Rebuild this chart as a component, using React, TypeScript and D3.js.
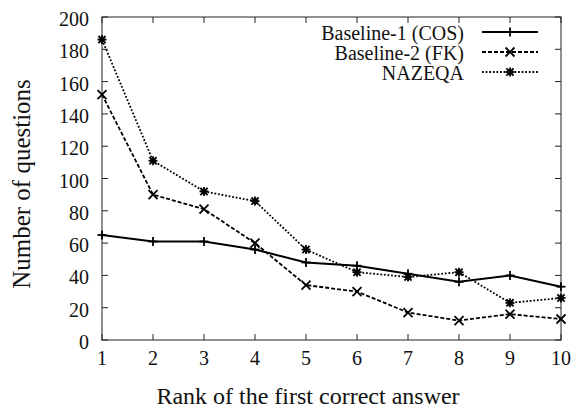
import React, {useEffect, useRef} from 'react';
import * as d3 from 'd3';

const ranks = [1, 2, 3, 4, 5, 6, 7, 8, 9, 10];
const baseline1 = [65, 61, 61, 56, 48, 46, 41, 36, 40, 33];
const baseline2 = [152, 90, 81, 60, 34, 30, 17, 12, 16, 13];
const nazeqa = [186, 111, 92, 86, 56, 42, 39, 42, 23, 26];
const yTicks = [0, 20, 40, 60, 80, 100, 120, 140, 160, 180, 200];
const seriesNames = ['Baseline-1 (COS)', 'Baseline-2 (FK)', 'NAZEQA'];

const FONT = "'Liberation Serif', 'DejaVu Serif', Times, serif";

export default function App() {
    const ref = useRef<SVGSVGElement>(null);

    useEffect(() => {
        const W = 576, H = 409;
        const margin = {top: 17, right: 15, bottom: 69, left: 102};
        const width = W - margin.left - margin.right;
        const height = H - margin.top - margin.bottom;

        const svg = d3.select(ref.current);
        svg.selectAll('*').remove();

        const g = svg.append('g')
            .attr('transform', `translate(${margin.left},${margin.top})`);

        const x = d3.scaleLinear().domain([1, 10]).range([0, width]);
        const y = d3.scaleLinear().domain([0, 200]).range([height, 0]);

        const axisColor = '#222';
        const tickLen = 6;

        // frame
        g.append('rect')
            .attr('width', width).attr('height', height)
            .attr('fill', 'none').attr('stroke', axisColor).attr('stroke-width', 1);

        // ticks on all four sides, pointing inward
        yTicks.forEach(t => {
            g.append('line').attr('x1', 0).attr('x2', tickLen)
                .attr('y1', y(t)).attr('y2', y(t)).attr('stroke', axisColor);
            g.append('line').attr('x1', width).attr('x2', width - tickLen)
                .attr('y1', y(t)).attr('y2', y(t)).attr('stroke', axisColor);
            g.append('text')
                .attr('x', -13).attr('y', y(t) + 2).attr('dy', '0.35em')
                .attr('text-anchor', 'end')
                .style('font-family', FONT).style('font-size', '20px')
                .attr('fill', '#111')
                .text(t);
        });
        ranks.forEach(r => {
            g.append('line').attr('x1', x(r)).attr('x2', x(r))
                .attr('y1', height).attr('y2', height - tickLen).attr('stroke', axisColor);
            g.append('line').attr('x1', x(r)).attr('x2', x(r))
                .attr('y1', 0).attr('y2', tickLen).attr('stroke', axisColor);
            g.append('text')
                .attr('x', x(r)).attr('y', height + 25)
                .attr('text-anchor', 'middle')
                .style('font-family', FONT).style('font-size', '20px')
                .attr('fill', '#111')
                .text(r);
        });

        // axis titles
        svg.append('text')
            .attr('x', 308).attr('y', 404)
            .attr('text-anchor', 'middle')
            .style('font-family', FONT).style('font-size', '24px')
            .attr('fill', '#111')
            .text('Rank of the first correct answer');
        svg.append('text')
            .attr('transform', `translate(30,184) rotate(-90)`)
            .attr('text-anchor', 'middle')
            .style('font-family', FONT).style('font-size', '25px')
            .attr('fill', '#111')
            .text('Number of questions');

        const styles = [
            {data: baseline1, dash: null, width: 2, marker: 'plus'},
            {data: baseline2, dash: '4,2', width: 1.8, marker: 'cross'},
            {data: nazeqa, dash: '1.8,1.8', width: 1.8, marker: 'star'},
        ];

        const drawMarker = (sel: any, cx: number, cy: number, type: string) => {
            const s = 4.5;
            const m = sel.append('g').attr('transform', `translate(${cx},${cy})`)
                .attr('stroke', '#000').attr('stroke-width', 1.8);
            if (type === 'plus' || type === 'star') {
                m.append('line').attr('x1', -s).attr('x2', s).attr('y1', 0).attr('y2', 0);
                m.append('line').attr('x1', 0).attr('x2', 0).attr('y1', -s).attr('y2', s);
            }
            if (type === 'cross' || type === 'star') {
                const c = type === 'star' ? 3.6 : s;
                m.append('line').attr('x1', -c).attr('x2', c).attr('y1', -c).attr('y2', c);
                m.append('line').attr('x1', -c).attr('x2', c).attr('y1', c).attr('y2', -c);
            }
            if (type === 'star') {
                m.append('rect').attr('x', -2.5).attr('y', -2.5).attr('width', 5).attr('height', 5)
                    .attr('fill', '#000').attr('stroke', 'none');
            }
        };

        const line = d3.line<number>()
            .x((d, i) => x(ranks[i]))
            .y(d => y(d));

        styles.forEach(st => {
            g.append('path')
                .datum(st.data)
                .attr('fill', 'none')
                .attr('stroke', '#000')
                .attr('stroke-width', st.width)
                .attr('stroke-dasharray', st.dash)
                .attr('d', line);
            st.data.forEach((v, i) => drawMarker(g, x(ranks[i]), y(v), st.marker));
        });

        // legend
        const legendTextX = 464;
        const legendLine = [482, 538];
        styles.forEach((st, i) => {
            const ly = 32 + i * 20;
            svg.append('text')
                .attr('x', legendTextX).attr('y', ly + 1).attr('dy', '0.35em')
                .attr('text-anchor', 'end')
                .style('font-family', FONT).style('font-size', '20px')
                .attr('fill', '#111')
                .text(seriesNames[i]);
            svg.append('line')
                .attr('x1', legendLine[0]).attr('x2', legendLine[1])
                .attr('y1', ly).attr('y2', ly)
                .attr('stroke', '#000').attr('stroke-width', st.width)
                .attr('stroke-dasharray', st.dash);
            drawMarker(svg, 510, ly, st.marker);
        });
    }, []);

    return (
        <svg ref={ref} width={576} height={409}
             style={{position: 'absolute', left: 0, top: 0, background: '#fff'}} />
    );
}
